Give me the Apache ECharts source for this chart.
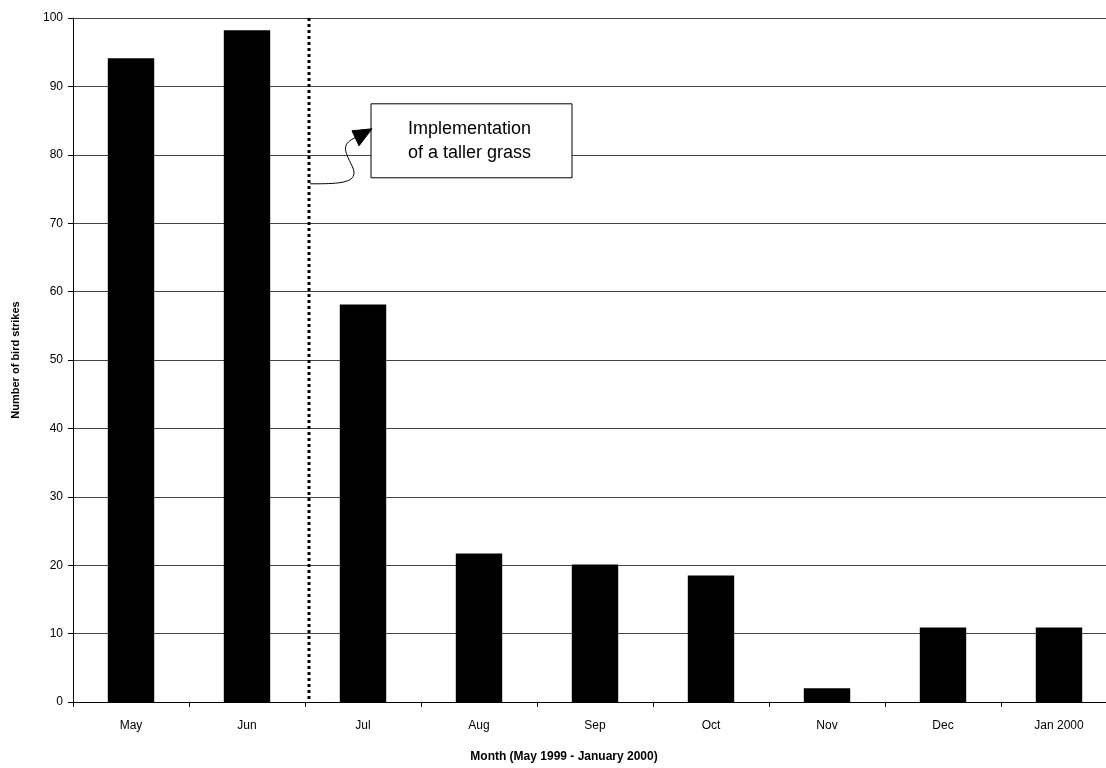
<!DOCTYPE html>
<html><head><meta charset="utf-8">
<script src="https://cdn.jsdelivr.net/npm/echarts@6/dist/echarts.min.js"></script>
<style>html,body{margin:0;padding:0;background:#fff;overflow:hidden;width:1106px;height:768px}#c{width:1117px;height:768px}</style>
</head><body><div id="c"></div>
<script>
const categories = ['May','Jun','Jul','Aug','Sep','Oct','Nov','Dec','Jan 2000'];
const strikes = [94.1, 98.2, 58.1, 21.7, 20.1, 18.5, 2.0, 10.9, 10.9];
const yTicks = {min: 0, max: 100, interval: 10};
const annotationText = 'Implementation\nof a taller grass';
const yName = 'Number of bird strikes';
const xName = 'Month (May 1999 - January 2000)';

const chart = echarts.init(document.getElementById('c'));
const font = 'Liberation Sans, Arial, sans-serif';
chart.setOption({
  animation: false,
  backgroundColor: '#fff',
  grid: {left: 73, right: 0, top: 18, bottom: 66, containLabel: false},
  xAxis: {
    type: 'category', data: categories,
    axisLine: {lineStyle: {color: '#000', width: 1}},
    axisTick: {show: true, alignWithLabel: false, length: 5, lineStyle: {color: '#000'}},
    axisLabel: {color: '#000', fontSize: 12, fontFamily: font, margin: 18},
    name: xName, nameLocation: 'middle', nameGap: 49,
    nameTextStyle: {color: '#000', fontSize: 12, fontWeight: 'bold', padding: [0, 62, 0, 0], fontFamily: 'Liberation Sans Narrow, Liberation Sans, Arial'}
  },
  yAxis: {
    type: 'value', min: yTicks.min, max: yTicks.max, interval: yTicks.interval,
    axisLine: {show: true, lineStyle: {color: '#000', width: 1}},
    axisTick: {show: true, length: 5, lineStyle: {color: '#000'}},
    axisLabel: {color: '#000', fontSize: 12, fontFamily: font, margin: 10},
    splitLine: {lineStyle: {color: '#444', width: 1}},
    name: yName, nameLocation: 'middle', nameGap: 52,
    nameTextStyle: {color: '#000', fontSize: 11, fontWeight: 'bold', fontFamily: 'Liberation Sans Narrow, Liberation Sans, Arial'}
  },
  series: [{
    type: 'bar', data: strikes, barWidth: '40%',
    itemStyle: {color: '#000'}
  }]
});

// annotation: dotted line just right of the Jun/Jul boundary, box and arrow
const xJun = chart.convertToPixel({xAxisIndex: 0}, 'Jun');
const xJul = chart.convertToPixel({xAxisIndex: 0}, 'Jul');
const lineX = (xJun + xJul) / 2 + 4;
const yTop = chart.convertToPixel({yAxisIndex: 0}, 100);
const yBot = chart.convertToPixel({yAxisIndex: 0}, 0);
const y80 = chart.convertToPixel({yAxisIndex: 0}, 80);
const boxL = lineX + 62, boxT = y80 - 51, boxW = 201, boxH = 74;
chart.setOption({
  graphic: [
    {type: 'line', shape: {x1: lineX, y1: yTop, x2: lineX, y2: yBot},
     style: {stroke: '#000', lineWidth: 3, lineDash: [3, 3]}, z: 10},
    {type: 'rect', shape: {x: boxL, y: boxT, width: boxW, height: boxH},
     style: {fill: '#fff', stroke: '#000', lineWidth: 1}, z: 10},
    {type: 'text', x: boxL + boxW / 2 - 2, y: boxT + boxH / 2,
     style: {text: annotationText, fill: '#000', font: '18px Liberation Sans, Arial', align: 'center', verticalAlign: 'middle', lineHeight: 24}, z: 11},
    {type: 'bezierCurve', z: 11,
     shape: {x1: lineX + 1, y1: boxT + 80, cpx1: lineX + 30, cpy1: boxT + 80, cpx2: lineX + 52, cpy2: boxT + 80, x2: lineX + 43, y2: boxT + 62},
     style: {fill: 'none', stroke: '#000', lineWidth: 1}},
    {type: 'bezierCurve', z: 11,
     shape: {x1: lineX + 43, y1: boxT + 62, cpx1: lineX + 35, cpy1: boxT + 46, cpx2: lineX + 32, cpy2: boxT + 40, x2: lineX + 48, y2: boxT + 33},
     style: {fill: 'none', stroke: '#000', lineWidth: 1}},
    {type: 'polygon', z: 11,
     shape: {points: [[lineX + 63, boxT + 25], [lineX + 43, boxT + 27], [lineX + 50, boxT + 42]]},
     style: {fill: '#000', stroke: '#000'}}
  ]
});
</script></body></html>
